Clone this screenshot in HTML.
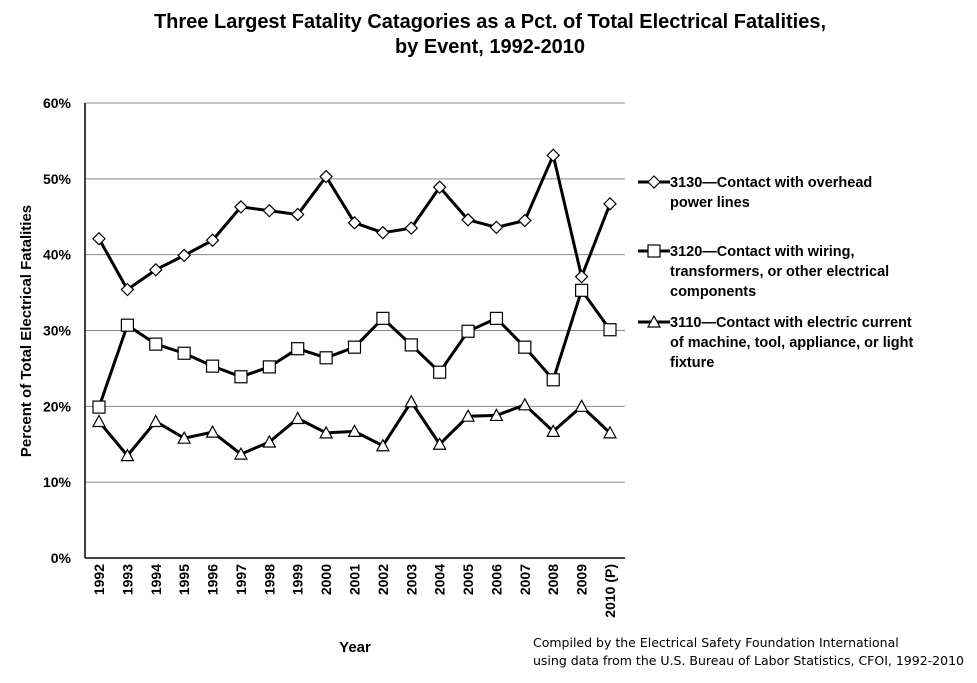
<!DOCTYPE html>
<html><head><meta charset="utf-8"><style>
body{margin:0;background:#fff;font-family:"Liberation Sans",sans-serif;}
svg{display:block}
</style></head><body>
<svg id="chart" width="977" height="683">
<text x="490" y="28" text-anchor="middle" font-size="20" font-weight="bold">Three Largest Fatality Catagories as a Pct. of Total Electrical Fatalities,</text>
<text x="490" y="53" text-anchor="middle" font-size="20" font-weight="bold">by Event, 1992-2010</text>
<text transform="translate(31,331) rotate(-90)" text-anchor="middle" font-size="15" font-weight="bold">Percent of Total Electrical Fatalities</text>
<text x="355" y="652" text-anchor="middle" font-size="15" font-weight="bold">Year</text>
<text x="533" y="647" font-size="12.5" font-family="DejaVu Sans, sans-serif">Compiled by the Electrical Safety Foundation International</text>
<text x="533" y="665" font-size="12.5" font-family="DejaVu Sans, sans-serif">using data from the U.S. Bureau of Labor Statistics, CFOI, 1992-2010</text>
<g id="grid"></g><g id="series"></g><g id="legend"></g>
</svg>
<script>
const years=["1992","1993","1994","1995","1996","1997","1998","1999","2000","2001","2002","2003","2004","2005","2006","2007","2008","2009","2010 (P)"];
const yTicks=[0,10,20,30,40,50,60];
const overhead=[42.1,35.4,38.0,39.9,41.9,46.3,45.8,45.3,50.3,44.2,42.9,43.5,48.9,44.6,43.6,44.5,53.1,37.1,46.7];
const wiring=[19.9,30.7,28.2,27.0,25.3,23.9,25.2,27.6,26.4,27.8,31.6,28.1,24.5,29.9,31.6,27.8,23.5,35.3,30.1];
const current=[18.0,13.5,18.0,15.8,16.6,13.7,15.3,18.4,16.5,16.7,14.8,20.6,15.0,18.7,18.8,20.2,16.7,20.0,16.5];
const legendLabels=[["3130—Contact with overhead","power lines"],["3120—Contact with wiring,","transformers, or other electrical","components"],["3110—Contact with electric current","of machine, tool, appliance, or light","fixture"]];
const NS="http://www.w3.org/2000/svg";
const L=85,R=625,T=103,B=558;
const xs=i=>99+i*(610-99)/(years.length-1);
const ys=v=>B-(v/60)*(B-T);
function mk(tag,attrs,parent){const e=document.createElementNS(NS,tag);for(const k in attrs)e.setAttribute(k,attrs[k]);parent.appendChild(e);return e;}
const grid=document.getElementById('grid');
yTicks.forEach(t=>{
 const l=mk('line',{x1:L,x2:R,y1:ys(t),y2:ys(t),stroke:t===0?'#000':'#888','stroke-width':t===0?1.5:1},grid);
 
 
 const tx=mk('text',{x:L-14,y:ys(t)+5,'text-anchor':'end','font-size':14,'font-weight':'bold'},grid);
 tx.textContent=t+'%';
 
 
});
const ax=mk('line',{x1:L,x2:L,y1:T,y2:B,stroke:'#000','stroke-width':1.5},grid);


years.forEach((y,i)=>{
 const tx=mk('text',{transform:`translate(${xs(i)+5},${564}) rotate(-90)`,'text-anchor':'end','font-size':14,'font-weight':'bold'},grid);
 tx.textContent=y;
 
 
});
function marker(kind,x,y,g){
 let e;
 if(kind==='diamond')e=mk('polygon',{points:`${x},${y-6} ${x+6},${y} ${x},${y+6} ${x-6},${y}`,fill:'#fff',stroke:'#000','stroke-width':1.2},g);
 else if(kind==='square')e=mk('rect',{x:x-6,y:y-6,width:12,height:12,fill:'#fff',stroke:'#000','stroke-width':1.2},g);
 else e=mk('polygon',{points:`${x},${y-6} ${x+6},${y+5} ${x-6},${y+5}`,fill:'#fff',stroke:'#000','stroke-width':1.2},g);
 return e;
}
const sg=document.getElementById('series');
[[overhead,'diamond','overhead'],[wiring,'square','wiring'],[current,'triangle','current']].forEach(([d,k,n])=>{
 const g=mk('g',{},sg);
 
 
 const p=mk('polyline',{points:d.map((v,i)=>xs(i)+','+ys(v)).join(' '),fill:'none',stroke:'#000','stroke-width':3},g);
 
 
 d.forEach((v,i)=>{const m=marker(k,xs(i),ys(v),g);
  
  });
});
const lg=document.getElementById('legend');
const ly=[182,251,322],kinds=['diamond','square','triangle'];
legendLabels.forEach((lines,j)=>{
 const g=mk('g',{},lg);
 
 
 mk('line',{x1:638,x2:670,y1:ly[j],y2:ly[j],stroke:'#000','stroke-width':3},g);
 marker(kinds[j],654,ly[j],g);
 lines.forEach((s,q)=>{const t=mk('text',{x:670,y:ly[j]+5+q*20,'font-size':14.5,'font-weight':'bold'},g);t.textContent=s;});
});
</script>
</body></html>
